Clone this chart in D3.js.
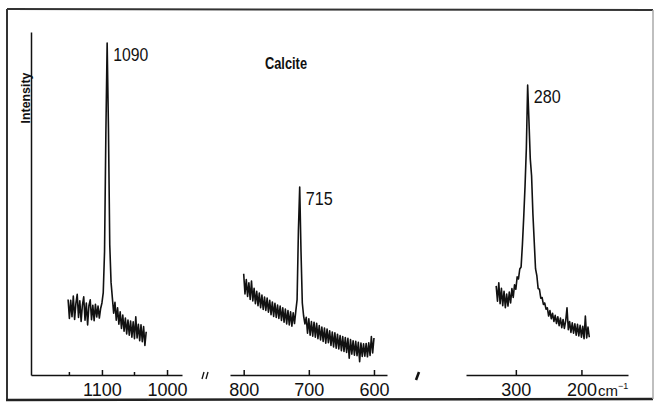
<!DOCTYPE html>
<html>
<head>
<meta charset="utf-8">
<script src="https://cdn.jsdelivr.net/npm/d3@7"></script>
<style>
  body { margin: 0; background: #fff; }
  svg text { font-family: "Liberation Sans", Arial, sans-serif; fill: #111; }
</style>
</head>
<body>
<div id="chart"></div>
<script>
// Raman spectrum of calcite, three windows of the same trace
// wavenumber grid starts / steps (cm-1)
var seg1Start = 1152, seg2Start = 800, seg3Start = 330, wnStep = 2

// intensities (arbitrary units, 0 = baseline of axis)
var seg1Values = [22.0, 16.5, 21.8, 17.0, 23.0, 16.2, 20.9, 23.5, 16.8, 21.6,
  15.6, 20.4, 22.8, 16.0, 21.0, 14.6, 20.2, 21.9, 16.1, 20.3,
  15.8, 20.6, 16.9, 20.1, 16.6, 19.4, 21.0, 24, 36, 70,
  96.8, 72, 38, 27, 22.5, 18.0, 21.2, 16.0, 19.6, 14.8,
  18.4, 13.6, 17.5, 12.8, 16.6, 12.0, 16.0, 11.6, 15.7, 11.0,
  15.5, 10.6, 17.0, 10.8, 14.8, 10.0, 14.6, 9.7, 14.1, 8.6, 12.6]

var seg2Values = [29.5, 23.6, 27.8, 22.9, 26.9, 22.0, 27.4, 21.6, 25.3, 20.8,
  24.4, 20.2, 23.9, 19.6, 23.3, 19.1, 22.7, 18.8, 22.4, 18.3,
  21.8, 17.6, 21.3, 17.1, 20.9, 16.8, 20.4, 16.5, 20.1, 15.9,
  19.6, 15.4, 19.2, 14.9, 18.8, 14.6, 18.4, 14.2, 18.1, 15.0,
  18.6, 22, 42, 54.8, 36, 21, 17.2, 14.9, 16.8, 12.2,
  16.4, 11.6, 15.6, 11.3, 15.4, 11.0, 15.1, 10.6, 14.4, 10.2,
  14.0, 9.8, 13.7, 9.3, 13.4, 9.4, 12.9, 8.6, 12.5, 8.2,
  12.3, 7.8, 11.9, 7.6, 11.5, 7.1, 11.2, 6.9, 10.9, 6.6,
  10.7, 4.9, 10.3, 6.1, 10.0, 5.8, 9.8, 5.6, 9.5, 3.9,
  9.3, 5.4, 9.1, 5.5, 9.2, 5.3, 9.4, 5.7, 11.2, 6.4, 10.8]

var seg3Values = [26.0, 21.5, 26.9, 20.8, 25.3, 20.2, 24.4, 19.6, 23.6, 20.1,
  24.2, 21.0, 25.2, 22.6, 26.3, 25.0, 28.6, 28.0, 30.9, 31.5,
  38, 46, 55, 66, 84.5, 74, 63, 58, 47, 39,
  31, 29.0, 25.2, 25.0, 22.4, 22.6, 20.6, 21.0, 19.2, 19.6,
  17.2, 18.8, 16.4, 18.0, 15.6, 17.4, 15.0, 17.0, 14.4, 16.6,
  13.8, 16.2, 13.6, 15.8, 19.6, 13.2, 15.6, 12.4, 15.2, 12.2,
  14.9, 11.6, 14.8, 11.4, 14.5, 11.0, 14.2, 10.6, 17.2, 10.8, 14.0, 11.0]

// axis windows (wavenumber extent of each drawn axis piece) and ticks
var seg1Domain = [1209, 977], seg2Domain = [821, 580], seg3Domain = [376, 129]
var seg1Ticks = [1100, 1000], seg2Ticks = [800, 700, 600], seg3Ticks = [300, 200]
var seg1Minor = [1150, 1050]

var peakLabels = [
  {seg: 0, wn: 1092, value: 96.8, text: "1090"},
  {seg: 1, wn: 714, value: 54.8, text: "715"},
  {seg: 2, wn: 282, value: 84.5, text: "280"}
]

var width = 658, height = 403

var svg = d3.select("#chart").append("svg")
  .attr("width", width)
  .attr("height", height)

svg.append("rect").attr("width", width).attr("height", height).attr("fill", "#fff")

// frame
svg.append("line").attr("x1", 7).attr("y1", 9).attr("x2", 653).attr("y2", 10)
  .attr("stroke", "#333").attr("stroke-width", 2)
svg.append("line").attr("x1", 7).attr("y1", 9).attr("x2", 7).attr("y2", 400)
  .attr("stroke", "#333").attr("stroke-width", 2)
svg.append("line").attr("x1", 6).attr("y1", 400).attr("x2", 653).attr("y2", 399)
  .attr("stroke", "#222").attr("stroke-width", 2.5)
svg.append("line").attr("x1", 653).attr("y1", 10).attr("x2", 653).attr("y2", 399)
  .attr("stroke", "#aaa").attr("stroke-width", 1.5)

var baseY = 375

var y = d3.scaleLinear().domain([0, 100]).range([baseY, 32])

var segs = [
  {start: seg1Start, values: seg1Values, domain: seg1Domain, range: [31, 182], ticks: seg1Ticks, minor: seg1Minor},
  {start: seg2Start, values: seg2Values, domain: seg2Domain, range: [230, 387], ticks: seg2Ticks, minor: []},
  {start: seg3Start, values: seg3Values, domain: seg3Domain, range: [466, 628], ticks: seg3Ticks, minor: []}
]

var line = d3.line()

segs.forEach(function(s) {
  s.x = d3.scaleLinear().domain(s.domain).range(s.range)
  s.data = s.values.map(function(v, i) { return {wn: s.start - i * wnStep, value: v} })

  var ax = svg.append("g")
    .attr("transform", "translate(0," + baseY + ")")
    .call(d3.axisBottom(s.x)
      .tickValues(s.ticks)
      .tickSizeInner(-5)
      .tickSizeOuter(0)
      .tickPadding(8)
      .tickFormat(d3.format("d")))
  ax.select(".domain").attr("stroke", "#111").attr("stroke-width", 1.5)
  ax.selectAll(".tick line").attr("stroke", "#111").attr("stroke-width", 1.5).attr("y2", -5)
  ax.selectAll(".tick text")
    .attr("font-family", "Liberation Sans, Arial, sans-serif")
    .attr("font-size", 18)
    .attr("fill", "#111")

  ax.selectAll(".minor").data(s.minor).join("line")
    .attr("class", "minor")
    .attr("x1", s.x).attr("x2", s.x)
    .attr("y1", -3).attr("y2", 1)
    .attr("stroke", "#111").attr("stroke-width", 1.5)

  svg.append("path")
    .datum(s.data)
    .attr("fill", "none")
    .attr("stroke", "#111")
    .attr("stroke-width", 1.6)
    .attr("stroke-linejoin", "round")
    .attr("d", line.x(function(d) { return s.x(d.wn) }).y(function(d) { return y(d.value) }))
})

// intensity axis (no ticks)
var yAx = svg.append("g")
  .attr("transform", "translate(31,0)")
  .call(d3.axisLeft(y).tickValues([]).tickSizeOuter(0))
yAx.select(".domain").attr("stroke", "#111").attr("stroke-width", 1.5)

svg.append("text")
  .attr("transform", "translate(30,98) rotate(-90)")
  .attr("text-anchor", "middle")
  .attr("font-size", 13)
  .attr("font-weight", "bold")
  .attr("textLength", 51)
  .attr("lengthAdjust", "spacingAndGlyphs")
  .text("Intensity")

// axis break marks
svg.append("line").attr("x1", 202).attr("y1", 379).attr("x2", 204).attr("y2", 372)
  .attr("stroke", "#111").attr("stroke-width", 1.3)
svg.append("line").attr("x1", 206).attr("y1", 379).attr("x2", 208).attr("y2", 372)
  .attr("stroke", "#111").attr("stroke-width", 1.3)
svg.append("line").attr("x1", 416).attr("y1", 380).attr("x2", 419).attr("y2", 372)
  .attr("stroke", "#111").attr("stroke-width", 2.5)

// unit
var unit = svg.append("text")
  .attr("x", 598).attr("y", 396)
  .attr("font-size", 15)
unit.append("tspan").text("cm")
unit.append("tspan").attr("dy", -7).attr("font-size", 9).text("−1")

// title
svg.append("text")
  .attr("x", 265).attr("y", 69)
  .attr("font-size", 16)
  .attr("font-weight", "bold")
  .attr("textLength", 42)
  .attr("lengthAdjust", "spacingAndGlyphs")
  .text("Calcite")

// peak labels
svg.selectAll(".peak").data(peakLabels).join("text")
  .attr("class", "peak")
  .attr("x", function(d) { return segs[d.seg].x(d.wn) + 6 })
  .attr("y", function(d) { return y(d.value) + 18 })
  .attr("font-size", 19)
  .attr("textLength", function(d) { return d.text.length === 4 ? 35 : 27 })
  .attr("lengthAdjust", "spacingAndGlyphs")
  .text(function(d) { return d.text })
</script>
</body>
</html>
